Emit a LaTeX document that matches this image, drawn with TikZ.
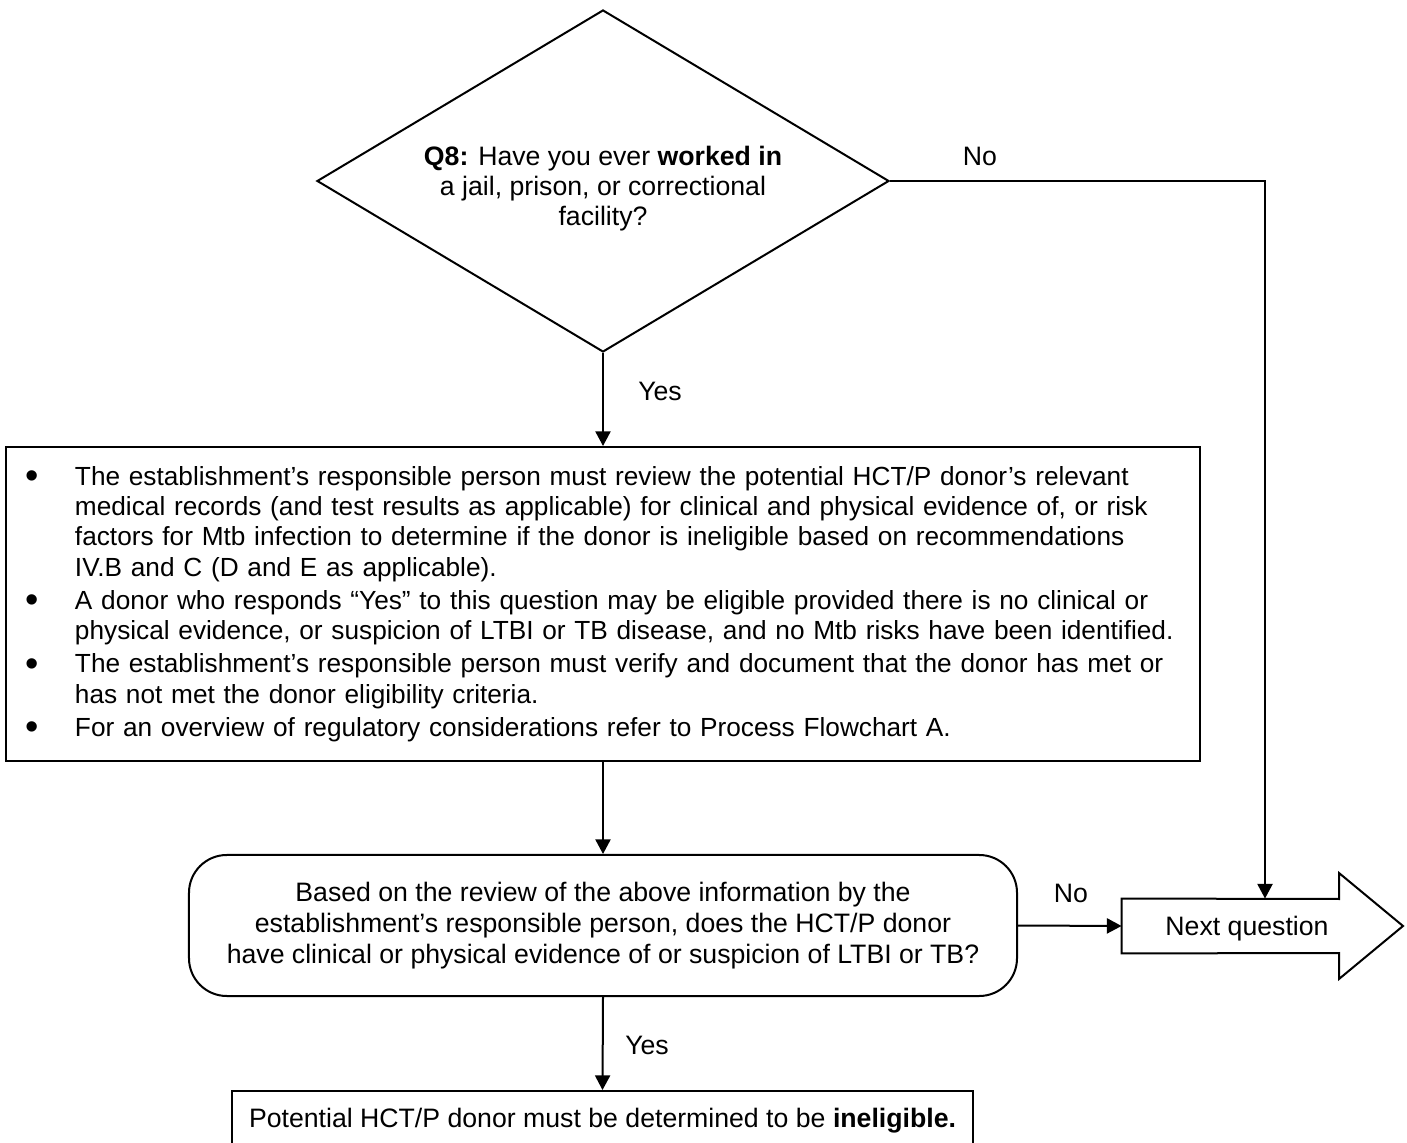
\documentclass[tikz,border=0pt]{standalone}
\usepackage{fontspec}
\setmainfont{Liberation Sans}
\usetikzlibrary{shapes.geometric,arrows.meta}

% bullet line helpers for the review box
\newcommand{\bigdot}{\raisebox{-1.6pt}{\scalebox{1.45}{\textbullet}}}
\newcommand{\bulline}{\hspace*{11.7pt}\makebox[0pt]{\bigdot}\hspace*{19.35pt}}
\newcommand{\contline}{\hspace*{31.05pt}}

\begin{document}
\begin{tikzpicture}[x=0.45pt, y=-0.45pt,
  font=\fontsize{12}{13.8}\selectfont,
  line/.style={line width=0.9pt},
  arr/.style={line, -{Triangle[length=6.6pt,width=6.8pt]}},
  lbl/.style={inner sep=0pt},
  decision/.style={draw, line, diamond, inner sep=0pt,
    minimum width=257.4pt, minimum height=153.9pt},
  infobox/.style={draw, line, rectangle, inner sep=0pt,
    minimum width=537.3pt, minimum height=141.3pt,
    text width=537.3pt, align=left,
    font=\fontsize{11.8}{13.65}\selectfont},
  roundbox/.style={draw, line, rectangle, rounded corners=17pt, inner sep=0pt,
    minimum width=372.6pt, minimum height=63.45pt, align=center},
  plainbox/.style={draw, line, rectangle, inner sep=0pt, text depth=0pt,
    minimum width=333.45pt, minimum height=24.3pt},
]
\useasboundingbox (0,0) rectangle (1407,1143);
\clip (0,0) rectangle (1407,1143);

% question Q8
\node[decision] (q8) at (603,181) {};
\node[lbl, align=center, font=\fontsize{12}{13.5}\selectfont] (q8txt) at (603,189)
  {\textbf{Q8:} Have you ever \textbf{worked in}\\
   a jail, prison, or correctional\\
   facility?};

% review requirements
\node[infobox] (info) at (603,604) {%
\bulline The establishment’s responsible person must review the potential HCT/P donor’s relevant\\
\contline medical records (and test results as applicable) for clinical and physical evidence of, or risk\\
\contline factors for Mtb infection to determine if the donor is ineligible based on recommendations\\
\contline IV.B and C (D and E as applicable).\\[1.3pt]
\bulline A donor who responds “Yes” to this question may be eligible provided there is no clinical or\\
\contline physical evidence, or suspicion of LTBI or TB disease, and no Mtb risks have been identified.\\[1.3pt]
\bulline The establishment’s responsible person must verify and document that the donor has met or\\
\contline has not met the donor eligibility criteria.\\[1.3pt]
\bulline For an overview of regulatory considerations refer to Process Flowchart A.};

% evidence decision
\node[roundbox] (decide) at (603,925.5)
  {Based on the review of the above information by the\\
   establishment’s responsible person, does the HCT/P donor\\
   have clinical or physical evidence of or suspicion of LTBI or TB?};

% outcome
\node[plainbox] (final) at (602.5,1118)
  {Potential HCT/P donor must be determined to be \textbf{ineligible.}};

% next question block arrow
\node[inner sep=0pt, text depth=0pt, minimum width=112.5pt, minimum height=24.3pt]
  (next) at (1247,926) {Next question};
\draw[line] (next.north west) -- (1339,899) -- (1339,873) -- (1403,926)
  -- (1339,979) -- (1339,953) -- (next.south west) -- cycle;

% connectors
\path (q8.east) ++(375,0) coordinate (bend);
\draw[arr] (q8.south) -- (info.north);
\draw[arr] (q8.east) -- (bend) -- (bend |- next.north);
\draw[arr] (info.south) -- (decide.north);
\draw[arr] (decide.east) -- (next.west);
\draw[arr] (decide.south) -- (final.north);

% connector labels
\node[lbl] (yes1) at (660,391) {Yes};
\node[lbl] (no1) at (980,156) {No};
\node[lbl] (no2) at (1071,893) {No};
\node[lbl] (yes2) at (647,1045) {Yes};
\end{tikzpicture}
\end{document}
